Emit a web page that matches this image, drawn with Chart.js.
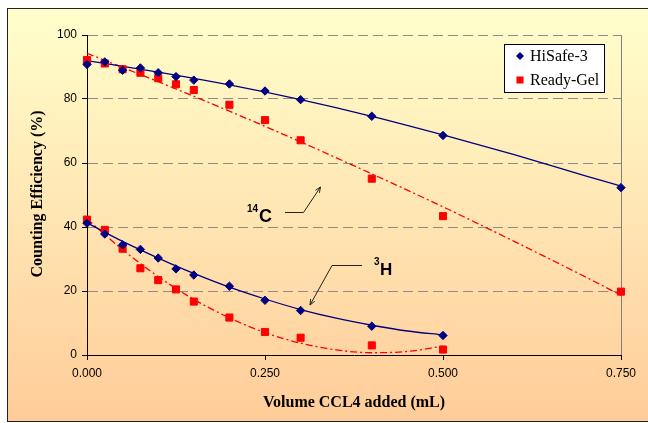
<!DOCTYPE html>
<html>
<head>
<meta charset="utf-8">
<script src="https://cdn.jsdelivr.net/npm/chart.js@4.4.0/dist/chart.umd.min.js"></script>
<style>
  html, body { margin: 0; padding: 0; background: #ffffff; }
  #wrap { width: 648px; height: 423px; }
</style>
</head>
<body>
<div id="wrap"><canvas id="chart" width="648" height="423"></canvas></div>
<script>
// Measured points (volume of CCl4 in mL, counting efficiency in %)
const volumes = [0, 0.025, 0.05, 0.075, 0.1, 0.125, 0.15, 0.2, 0.25, 0.3, 0.4, 0.5, 0.75];
const hisafeC14 = [90.8, 91.6, 89.0, 89.7, 88.2, 87.0, 85.9, 84.7, 82.5, 79.8, 74.6, 68.6, 52.3];
const readyGelC14 = [92.2, 91.1, 89.3, 88.2, 86.5, 84.6, 82.8, 78.2, 73.4, 67.1, 55.1, 43.4, 19.8];
const volumesH3 = [0, 0.025, 0.05, 0.075, 0.1, 0.125, 0.15, 0.2, 0.25, 0.3, 0.4, 0.5];
const hisafeH3 = [41.2, 37.8, 34.4, 33.0, 30.3, 26.9, 25.0, 21.5, 17.1, 13.9, 9.0, 6.1];
const readyGelH3 = [42.3, 39.1, 33.2, 27.1, 23.4, 20.5, 16.7, 11.7, 7.2, 5.4, 3.0, 1.7];

// Trend lines
const trendVolC14 = [0, 0.1, 0.2, 0.3, 0.4, 0.5, 0.6, 0.7, 0.75];
const hisafeC14Trend = [92.0, 88.4, 84.4, 79.8, 74.6, 68.8, 62.6, 56.0, 52.8];
const readyGelC14Trend = [94.3, 85.4, 76.2, 66.6, 56.6, 46.3, 35.5, 24.4, 18.7];
const trendVolH3 = [0, 0.05, 0.1, 0.15, 0.2, 0.25, 0.3, 0.35, 0.4, 0.45, 0.5];
const hisafeH3Trend = [41.3, 35.5, 30.3, 25.5, 21.2, 17.5, 14.2, 11.5, 9.3, 7.5, 6.3];
const readyGelH3Trend = [42.5, 32.9, 24.5, 17.4, 11.6, 7.0, 3.7, 1.6, 0.7, 1.1, 2.8];

const xTicks = [0, 0.25, 0.5, 0.75];
const yTicks = [0, 20, 40, 60, 80, 100];
const seriesNames = ['HiSafe-3', 'Ready-Gel'];

const NAVY = '#000080';
const RED = '#ff0000';

function pts(xs, ys) {
    return xs.map((x, i) => ({ x: x, y: ys[i] }));
}

function markerSet(label, xs, ys, isNavy) {
    return {
        label: label,
        data: pts(xs, ys),
        showLine: false,
        pointStyle: isNavy ? 'rectRot' : 'rect',
        pointRadius: isNavy ? 4.2 : 5,
        backgroundColor: isNavy ? NAVY : RED,
        borderColor: isNavy ? NAVY : RED,
        borderWidth: 1,
        clip: false,
        order: 0
    };
}

function trendSet(label, xs, ys, isNavy) {
    return {
        label: label,
        data: pts(xs, ys),
        showLine: true,
        pointRadius: 0,
        borderColor: isNavy ? NAVY : RED,
        borderWidth: 1.3,
        borderDash: isNavy ? [] : [7, 3, 2, 3],
        cubicInterpolationMode: 'monotone',
        fill: false,
        clip: false,
        order: 1
    };
}

// background gradient + outer frame
const backgroundPlugin = {
    id: 'bg',
    beforeDraw(chart) {
        const ctx = chart.ctx;
        ctx.save();
        const g = ctx.createLinearGradient(0, 8, 0, 421);
        g.addColorStop(0, '#ffffcc');
        g.addColorStop(1, '#ffcc99');
        ctx.fillStyle = g;
        ctx.fillRect(7, 8, 648, 413);
        ctx.strokeStyle = '#222';
        ctx.lineWidth = 1;
        ctx.strokeRect(7.5, 8.5, 648, 413);
        ctx.restore();
    }
};

// axis titles, annotations and legend box
const overlayPlugin = {
    id: 'overlay',
    afterDraw(chart) {
        const ctx = chart.ctx;
        ctx.save();
        ctx.fillStyle = '#000';

        // axis titles
        ctx.font = 'bold 16px "Liberation Serif", "Times New Roman", serif';
        ctx.textAlign = 'center';
        ctx.textBaseline = 'middle';
        ctx.fillText('Volume CCL4 added (mL)', 354, 403);
        ctx.save();
        ctx.translate(38, 194);
        ctx.rotate(-Math.PI / 2);
        ctx.fillText('Counting Efficiency (%)', 0, 0);
        ctx.restore();

        // 14C label
        ctx.textAlign = 'left';
        ctx.textBaseline = 'alphabetic';
        ctx.font = 'bold 10px "Liberation Sans", Arial, sans-serif';
        ctx.fillText('14', 247, 212);
        ctx.font = 'bold 18px "Liberation Sans", Arial, sans-serif';
        ctx.fillText('C', 259, 222);
        // 3H label
        ctx.font = 'bold 10px "Liberation Sans", Arial, sans-serif';
        ctx.fillText('3', 374, 265);
        ctx.font = 'bold 17px "Liberation Sans", Arial, sans-serif';
        ctx.fillText('H', 380, 275);

        // arrows
        ctx.strokeStyle = '#222';
        ctx.lineWidth = 1;
        function arrow(path) {
            ctx.beginPath();
            ctx.moveTo(path[0][0], path[0][1]);
            for (let i = 1; i < path.length; i++) ctx.lineTo(path[i][0], path[i][1]);
            ctx.stroke();
            const a = path[path.length - 2], b = path[path.length - 1];
            const ang = Math.atan2(b[1] - a[1], b[0] - a[0]);
            const len = 6;
            ctx.beginPath();
            ctx.moveTo(b[0] - len * Math.cos(ang - 0.4), b[1] - len * Math.sin(ang - 0.4));
            ctx.lineTo(b[0], b[1]);
            ctx.lineTo(b[0] - len * Math.cos(ang + 0.4), b[1] - len * Math.sin(ang + 0.4));
            ctx.stroke();
        }
        arrow([[285, 212.5], [303.5, 212.5], [320.5, 187]]);
        arrow([[362, 265.5], [332, 265.5], [310, 305]]);

        // legend
        ctx.fillStyle = '#ffffff';
        ctx.fillRect(504.5, 44.5, 100, 48);
        ctx.strokeStyle = '#000';
        ctx.strokeRect(504.5, 44.5, 100, 48);
        ctx.fillStyle = NAVY;
        ctx.beginPath();
        ctx.moveTo(520, 52); ctx.lineTo(524, 56); ctx.lineTo(520, 60); ctx.lineTo(516, 56);
        ctx.closePath();
        ctx.fill();
        ctx.fillStyle = RED;
        ctx.fillRect(516.5, 76.5, 7, 7);
        ctx.fillStyle = '#000';
        ctx.font = '16px "Liberation Serif", "Times New Roman", serif';
        ctx.textBaseline = 'middle';
        ctx.fillText(seriesNames[0], 530, 57);
        ctx.fillText(seriesNames[1], 530, 81);
        ctx.restore();
    }
};

const ctx = document.getElementById('chart').getContext('2d');
new Chart(ctx, {
    type: 'scatter',
    data: {
        datasets: [
            markerSet(seriesNames[0], volumes, hisafeC14, true),
            markerSet(seriesNames[1], volumes, readyGelC14, false),
            markerSet(seriesNames[0], volumesH3, hisafeH3, true),
            markerSet(seriesNames[1], volumesH3, readyGelH3, false),
            trendSet('HiSafe-3 14C trend', trendVolC14, hisafeC14Trend, true),
            trendSet('Ready-Gel 14C trend', trendVolC14, readyGelC14Trend, false),
            trendSet('HiSafe-3 3H trend', trendVolH3, hisafeH3Trend, true),
            trendSet('Ready-Gel 3H trend', trendVolH3, readyGelH3Trend, false)
        ]
    },
    options: {
        responsive: false,
        animation: false,
        events: [],
        layout: { padding: { left: 17, right: 27, top: 35, bottom: 18 } },
        plugins: {
            legend: { display: false },
            tooltip: { enabled: false }
        },
        scales: {
            x: {
                type: 'linear',
                min: xTicks[0],
                max: xTicks[xTicks.length - 1],
                afterBuildTicks: s => { s.ticks = xTicks.map(v => ({ value: v })); },
                afterFit: s => { s.height = 50; },
                ticks: {
                    color: '#000',
                    font: { family: '"Liberation Sans", Arial, sans-serif', size: 12 },
                    padding: 6,
                    maxRotation: 0,
                    callback: v => Number(v).toFixed(3)
                },
                grid: {
                    color: c => (c.tick && c.tick.value === 0.75) ? '#808080' : 'transparent',
                    tickColor: '#000',
                    tickLength: 5
                },
                border: { display: true, color: '#000', width: 1 }
            },
            y: {
                min: yTicks[0],
                max: yTicks[yTicks.length - 1],
                afterBuildTicks: s => { s.ticks = yTicks.map(v => ({ value: v })); },
                afterFit: s => { s.width = 70; },
                ticks: {
                    color: '#000',
                    font: { family: '"Liberation Sans", Arial, sans-serif', size: 12 },
                    padding: 5
                },
                grid: {
                    color: c => (c.tick && c.tick.value === 0) ? 'transparent' : '#8c8c8c',
                    tickColor: '#000',
                    tickLength: 5
                },
                border: { display: true, color: '#000', width: 1, dash: [10, 5] }
            }
        }
    },
    plugins: [backgroundPlugin, overlayPlugin]
});
</script>
</body>
</html>
